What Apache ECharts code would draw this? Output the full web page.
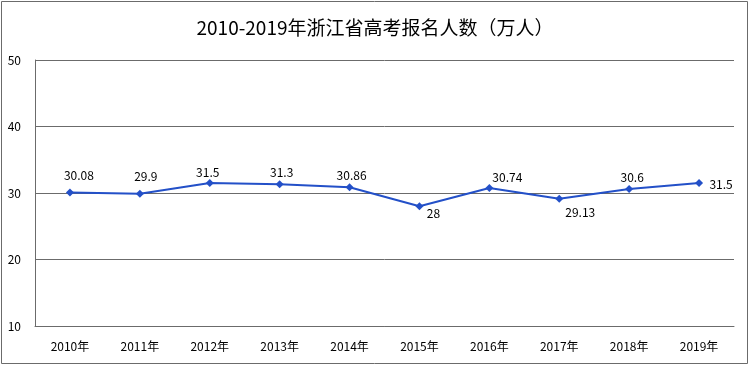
<!DOCTYPE html>
<html>
<head>
<meta charset="utf-8">
<script src="https://cdn.jsdelivr.net/npm/echarts@6/dist/echarts.min.js"></script>
<style>
html,body{margin:0;padding:0;background:#fff;}
#chart{width:750px;height:366px;}
</style>
</head>
<body>
<div id="chart"></div>
<script>
var titleText = '2010-2019年浙江省高考报名人数（万人）';
var categories = ['2010年','2011年','2012年','2013年','2014年','2015年','2016年','2017年','2018年','2019年'];
var values = [30.08, 29.9, 31.5, 31.3, 30.86, 28, 30.74, 29.13, 30.6, 31.5];
var yTicks = [10, 20, 30, 40, 50];
var labelOffsets = [[9,-17],[6,-17],[-2,-11],[2,-12],[2,-12],[14,7],[18,-11],[21,14],[3,-12],[22,1]];

var chart = echarts.init(document.getElementById('chart'));
var font = '"Noto Sans CJK SC", "Noto Sans", sans-serif';
var seriesData = values.map(function (v, i) {
  return {
    value: v,
    label: { position: 'inside', offset: labelOffsets[i] }
  };
});
chart.setOption({
  animation: false,
  backgroundColor: '#fff',
  title: {
    text: titleText,
    left: 'center',
    top: 13,
    textStyle: { fontFamily: font, fontSize: 19, fontWeight: 'normal', color: '#000' }
  },
  graphic: [{
    type: 'rect',
    shape: { x: 1.5, y: 1.5, width: 746, height: 362 },
    style: { fill: 'none', stroke: '#6b6b6b', lineWidth: 1 },
    silent: true
  }],
  grid: { left: 35, right: 16, top: 60, bottom: 40 },
  xAxis: {
    type: 'category',
    data: categories,
    boundaryGap: true,
    axisLine: { lineStyle: { color: '#6b6b6b', width: 1 } },
    axisTick: { show: false },
    axisLabel: { fontFamily: font, fontSize: 12, color: '#000', margin: 14 }
  },
  yAxis: {
    type: 'value',
    min: yTicks[0],
    max: yTicks[yTicks.length - 1],
    interval: 10,
    axisLine: { show: true, lineStyle: { color: '#6b6b6b', width: 1 } },
    axisTick: { show: false },
    axisLabel: { fontFamily: font, fontSize: 12, color: '#000', margin: 14 },
    splitLine: { lineStyle: { color: '#6b6b6b', width: 1 } }
  },
  series: [{
    type: 'line',
    data: seriesData,
    symbol: 'diamond',
    symbolSize: 8,
    lineStyle: { color: '#2350c8', width: 2 },
    itemStyle: { color: '#2350c8' },
    label: {
      show: true,
      fontFamily: font,
      fontSize: 12,
      color: '#000'
    }
  }]
});
</script>
</body>
</html>
